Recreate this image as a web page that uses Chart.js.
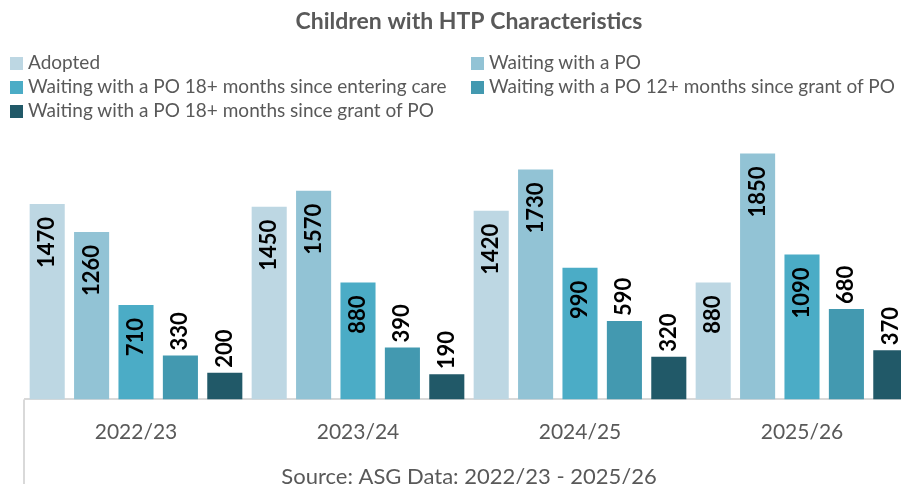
<!DOCTYPE html>
<html>
<head>
<meta charset="utf-8">
<script src="https://cdn.jsdelivr.net/npm/chart.js@4.4.1/dist/chart.umd.min.js"></script>
<style>
  html, body { margin: 0; padding: 0; background: #fff; overflow: hidden; }
  #wrap { position: relative; width: 913px; height: 484px; }
  #legend { position: absolute; left: 0; top: 50px; font-family: Lato, sans-serif; font-size: 19px; color: #595959; }
  .item { position: absolute; white-space: nowrap; line-height: 24px; height: 24px; }
  .item span.box { display: inline-block; width: 13px; height: 13px; margin-right: 5px; vertical-align: -1px; }
</style>
</head>
<body>
<div id="wrap">
  <canvas id="htpChart" width="913" height="484"></canvas>
  <div id="legend"></div>
</div>
<script>
// Categories and series
const years = ['2022/23', '2023/24', '2024/25', '2025/26'];
const seriesNames = [
  'Adopted',
  'Waiting with a PO',
  'Waiting with a PO 18+ months since entering care',
  'Waiting with a PO 12+ months since grant of PO',
  'Waiting with a PO 18+ months since grant of PO'
];
const adopted = [1470, 1450, 1420, 880];
const waitingPO = [1260, 1570, 1730, 1850];
const po18Entering = [710, 880, 990, 1090];
const po12Grant = [330, 390, 590, 680];
const po18Grant = [200, 190, 320, 370];

const colours = ['#BDD7E3', '#92C3D5', '#4BACC6', '#4399B0', '#215968'];
const allSeries = [adopted, waitingPO, po18Entering, po12Grant, po18Grant];

// Legend (two columns like the original)
const legend = document.getElementById('legend');
seriesNames.forEach((name, i) => {
  const div = document.createElement('div');
  div.className = 'item';
  div.style.left = (i % 2 === 0 ? 10 : 471) + 'px';
  div.style.top = (Math.floor(i / 2) * 24) + 'px';
  div.innerHTML = '<span class="box" style="background:' + colours[i] + '"></span>' + name;
  legend.appendChild(div);
});

// Value labels drawn on the bars
const barLabels = {
  id: 'barLabels',
  afterDatasetsDraw(chart) {
    const ctx = chart.ctx;
    ctx.save();
    ctx.font = 'bold 22px Lato';
    ctx.fillStyle = '#000';
    ctx.textBaseline = 'middle';
    chart.data.datasets.forEach((ds, di) => {
      chart.getDatasetMeta(di).data.forEach((bar, i) => {
        const v = ds.data[i];
        ctx.save();
        if (v >= 700) {
          ctx.translate(bar.x, bar.y + 13);
          ctx.rotate(-Math.PI / 2);
          ctx.textAlign = 'right';
        } else {
          ctx.translate(bar.x, bar.y - 5);
          ctx.rotate(-Math.PI / 2);
          ctx.textAlign = 'left';
        }
        ctx.fillText(String(v), 0, 0);
        ctx.restore();
      });
    });
    ctx.restore();
  }
};

// Left frame line below the axis
const frameLine = {
  id: 'frameLine',
  afterDraw(chart) {
    const ctx = chart.ctx;
    ctx.save();
    ctx.strokeStyle = '#D9D9D9';
    ctx.lineWidth = 2;
    ctx.beginPath();
    ctx.moveTo(chart.chartArea.left - 1, chart.chartArea.bottom);
    ctx.lineTo(chart.chartArea.left - 1, chart.height);
    ctx.stroke();
    ctx.restore();
  }
};

const ctx = document.getElementById('htpChart').getContext('2d');
new Chart(ctx, {
  type: 'bar',
  data: {
    labels: years,
    datasets: seriesNames.map((name, i) => ({
      label: name,
      data: allSeries[i],
      backgroundColor: colours[i],
      borderWidth: 0,
      categoryPercentage: 1.0,
      barPercentage: 0.79
    }))
  },
  options: {
    responsive: false,
    animation: false,
    layout: { padding: { left: 25, right: 0, top: 0, bottom: -6 } },
    scales: {
      x: {
        grid: { display: false },
        border: { display: true, color: '#D9D9D9', width: 2 },
        ticks: { color: '#595959', font: { family: 'Lato', size: 21 }, padding: 12 },
        title: {
          display: true,
          text: 'Source: ASG Data: 2022/23 - 2025/26',
          color: '#595959',
          font: { family: 'Lato', size: 22 },
          padding: { top: 7, bottom: 0 }
        }
      },
      y: {
        display: false,
        beginAtZero: true,
        min: 0,
        max: 2000
      }
    },
    plugins: {
      legend: { display: false },
      tooltip: { enabled: false },
      title: {
        display: true,
        text: 'Children with HTP Characteristics',
        color: '#595959',
        font: { family: 'Lato', size: 23, weight: 'bold' },
        padding: { top: 8, bottom: 98 }
      }
    }
  },
  plugins: [barLabels, frameLine]
});
</script>
</body>
</html>
